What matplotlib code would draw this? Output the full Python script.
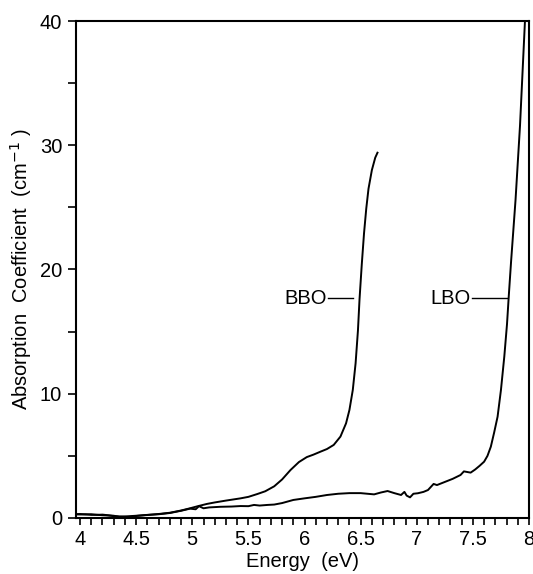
import matplotlib

matplotlib.use("Agg")
import matplotlib.pyplot as plt
from matplotlib.ticker import FuncFormatter, MultipleLocator

# absorption spectra
bbo_energy_ev = [
    3.96, 4.00, 4.05, 4.10, 4.15, 4.20, 4.25, 4.30, 4.35, 4.40, 4.45, 4.50,
    4.60, 4.70, 4.80, 4.90, 4.98, 5.05, 5.13, 5.20, 5.30, 5.43, 5.50, 5.58,
    5.65, 5.73, 5.80, 5.875, 5.95, 6.02, 6.08, 6.143, 6.20, 6.26, 6.32, 6.37,
    6.40, 6.43, 6.455, 6.476, 6.49, 6.51, 6.53, 6.55, 6.57, 6.60, 6.63, 6.65,
]
bbo_alpha = [
    0.30, 0.28, 0.30, 0.25, 0.26, 0.22, 0.20, 0.15, 0.12, 0.10, 0.15, 0.18,
    0.25, 0.32, 0.42, 0.60, 0.78, 0.95, 1.13, 1.25, 1.40, 1.58, 1.70, 1.93,
    2.15, 2.55, 3.10, 3.86, 4.50, 4.90, 5.10, 5.34, 5.55, 5.88, 6.55, 7.62,
    8.69, 10.3, 12.45, 15.1, 17.6, 20.4, 22.9, 24.9, 26.5, 28.0, 29.0, 29.4,
]

lbo_energy_ev = [
    3.96, 4.00, 4.05, 4.10, 4.15, 4.20, 4.25, 4.30, 4.35, 4.40, 4.45, 4.50,
    4.60, 4.70, 4.80, 4.90, 4.98, 5.03, 5.06, 5.10, 5.15, 5.25, 5.35, 5.43,
    5.50, 5.55, 5.60, 5.67, 5.73, 5.80, 5.90, 6.00, 6.10, 6.20, 6.30, 6.40,
    6.50, 6.62, 6.68, 6.74, 6.80, 6.86, 6.89, 6.91, 6.94, 6.97, 7.01, 7.06,
    7.10, 7.15, 7.18, 7.25, 7.32, 7.39, 7.42, 7.48, 7.52, 7.56, 7.60, 7.63,
    7.66, 7.69, 7.72, 7.75, 7.78, 7.804, 7.82, 7.84, 7.88, 7.92, 7.964,
]
lbo_alpha = [
    0.30, 0.32, 0.28, 0.30, 0.25, 0.27, 0.22, 0.18, 0.10, 0.12, 0.10, 0.16,
    0.24, 0.30, 0.40, 0.58, 0.75, 0.70, 0.95, 0.78, 0.85, 0.90, 0.92, 0.96,
    0.95, 1.05, 1.00, 1.05, 1.08, 1.20, 1.45, 1.58, 1.70, 1.85, 1.95, 2.00,
    2.00, 1.90, 2.05, 2.17, 2.00, 1.85, 2.10, 1.80, 1.66, 1.95, 1.99, 2.10,
    2.25, 2.74, 2.65, 2.90, 3.15, 3.46, 3.75, 3.65, 3.90, 4.20, 4.53, 5.00,
    5.74, 6.90, 8.15, 10.3, 13.0, 15.6, 17.9, 20.6, 25.6, 31.6, 40.0,
]

# curve labels: (text, leader line start, leader line end, height)
curve_labels = [
    ("BBO", 6.21, 6.43, 17.7),
    ("LBO", 7.49, 7.80, 17.7),
]

plt.rcParams["font.family"] = ["Liberation Sans", "DejaVu Sans"]
plt.rcParams["font.size"] = 14.5

fig = plt.figure(figsize=(5.33, 5.74), dpi=100)
ax = fig.add_axes([0.1426, 0.0976, 0.8499, 0.8658])

ax.plot(bbo_energy_ev, bbo_alpha, color="black", linewidth=1.4)
ax.plot(lbo_energy_ev, lbo_alpha, color="black", linewidth=1.4)

for text, x0, x1, y in curve_labels:
    ax.plot([x0, x1], [y, y], color="black", linewidth=1.0)
    ax.text(x0 - 0.01, y, text, ha="right", va="center")

ax.set_xlim(3.964, 8.0)
ax.set_ylim(0, 40)
ax.xaxis.set_major_locator(MultipleLocator(0.5))
ax.xaxis.set_minor_locator(MultipleLocator(0.1))
ax.yaxis.set_major_locator(MultipleLocator(10))
ax.yaxis.set_minor_locator(MultipleLocator(5))
ax.xaxis.set_major_formatter(FuncFormatter(lambda v, pos: f"{v:g}"))
ax.tick_params(axis="both", which="both", direction="out", length=5.0, width=1.2, pad=4)
ax.tick_params(axis="y", which="both", length=6.0)

for spine in ax.spines.values():
    spine.set_linewidth(1.5)

ax.set_xlabel("Energy  (eV)", labelpad=2)
ax.set_ylabel("Absorption  Coefficient  (cm$^{-1}$ )", labelpad=4)

fig.savefig("out.png", dpi=100)
